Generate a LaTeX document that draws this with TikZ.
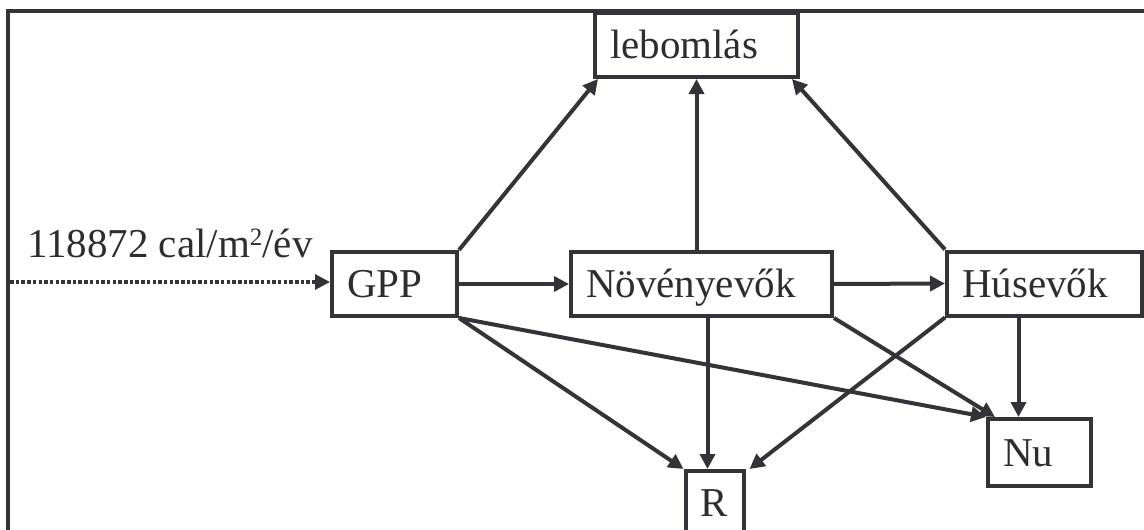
\documentclass[tikz,border=0pt]{standalone}
\usepackage{fontspec}
\setmainfont{Liberation Serif}
\usetikzlibrary{arrows.meta}
\definecolor{linec}{RGB}{52,52,56}
\definecolor{textc}{RGB}{45,45,48}
\newcommand{\bigfont}{\fontsize{41}{48}\selectfont}
\newcommand{\supsq}{\raisebox{12pt}{\fontsize{25}{25}\selectfont 2}}
\tikzset{
  box/.style={draw=linec, line width=4pt, inner xsep=15pt, inner ysep=0pt,
    align=left, text height=27pt, text depth=0pt, font=\bigfont, text=textc,
    fill=white},
  conn/.style={draw=linec, line width=4pt, -{Triangle[length=15pt,width=15pt]}},
  feed/.style={draw=linec, line width=3.2pt, dash pattern=on 3.5pt off 2.2pt,
    -{Triangle[length=15pt,width=15pt]}}
}
\begin{document}
\begin{tikzpicture}[x=1pt,y=-1pt]
\useasboundingbox (0,0) rectangle (1144,530);
\clip (0,0) rectangle (1144,530);
\fill[white] (0,0) rectangle (1144,530);
% outer frame (runs past the right and bottom edges)
\draw[linec, line width=3.5pt] (8,11) rectangle (1170,560);

% nodes
\node[box, text width=173pt, minimum height=64pt] (leb) at (696.5,45) {lebomlás};
\node[box, text width=95pt, minimum height=64pt] (gpp) at (394.5,284) {GPP};
\node[box, text width=231pt, minimum height=64pt] (nov) at (701.5,284) {Növényevők};
\node[box, text width=165pt, minimum height=64pt] (hus) at (1044.5,283.5) {Húsevők};
\node[box, text width=73pt, minimum height=67pt] (nu) at (1039.5,452.5) {Nu};
\node[box, text width=28pt, minimum height=64pt] (r) at (714.5,503) {R};

% input
\coordinate (src) at (10,282);
\node[anchor=base west, font=\bigfont, text=textc, inner sep=0pt] (lbl) at (27,257) {118872 cal/m\supsq/év};
\draw[feed] (src) -- (src -| gpp.west);

% helper coordinates
\coordinate (lebL) at ([xshift=5pt]leb.south west);
\coordinate (lebR) at ([xshift=-8pt]leb.south east);
\coordinate (rN) at ([xshift=-7pt]r.north);
\coordinate (rR) at ([xshift=4pt]r.north east);
\coordinate (nuL) at ([xshift=9pt]nu.north west);
\coordinate (nuN) at ([xshift=-21pt]nu.north);

% connectors
\draw[conn] (gpp.north east) -- (lebL);
\draw[conn] (nov.north -| leb.south) -- (leb.south);
\draw[conn] (hus.north west) -- (lebR);
\draw[conn] (gpp.east) -- (nov.west);
\draw[conn] (nov.east) -- (hus.west);
\draw[conn] (gpp.south east) -- (r.north west);
\draw[conn] (gpp.south east) -- (nu.north west);
\draw[conn] (nov.south -| rN) -- (rN);
\draw[conn] (nov.south east) -- (nuL);
\draw[conn] (hus.south west) -- (rR);
\draw[conn] (hus.south -| nuN) -- (nuN);
\end{tikzpicture}
\end{document}
